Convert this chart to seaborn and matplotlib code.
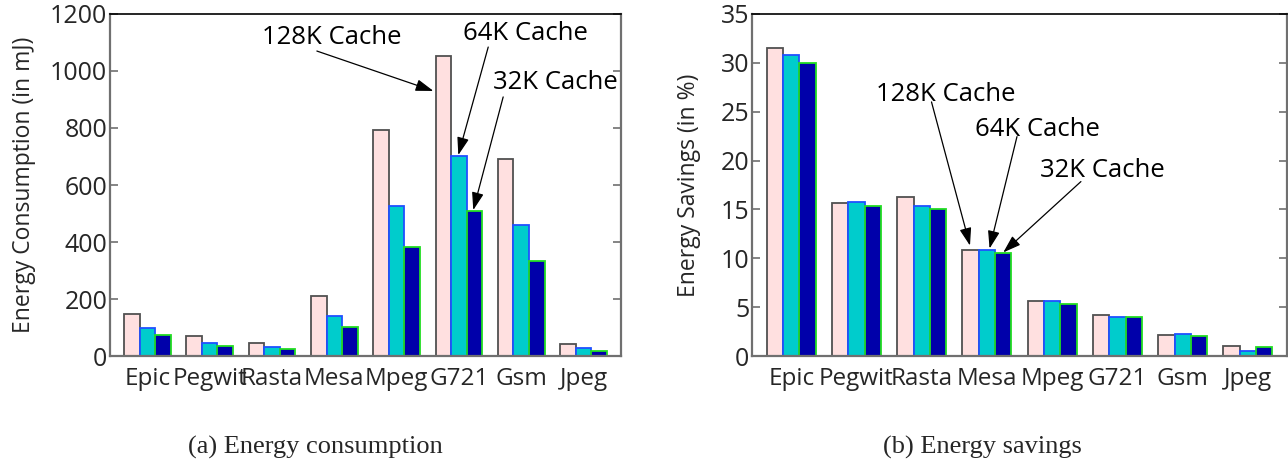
import matplotlib
matplotlib.use("Agg")
import matplotlib.pyplot as plt
import seaborn as sns
import pandas as pd

sns.set_theme(style="white")
plt.rcParams["font.family"] = ["Open Sans", "DejaVu Sans"]

benchmarks = ["Epic", "Pegwit", "Rasta", "Mesa", "Mpeg", "G721", "Gsm", "Jpeg"]
caches = ["128K Cache", "64K Cache", "32K Cache"]

# Energy consumption in mJ
energy_128k = [147, 70, 45, 209, 793, 1053, 692, 41]
energy_64k = [97, 47, 30, 140, 526, 701, 460, 27]
energy_32k = [73, 34, 23, 101, 381, 509, 333, 19]

# Energy savings in %
savings_128k = [31.5, 15.7, 16.3, 10.9, 5.6, 4.2, 2.2, 1.0]
savings_64k = [30.8, 15.8, 15.4, 10.8, 5.6, 4.0, 2.3, 0.5]
savings_32k = [30.0, 15.35, 15.0, 10.5, 5.35, 3.95, 2.05, 0.95]

fill_colors = ["#FFE0E0", "#00CCCC", "#0000AA"]
edge_colors = ["#505050", "#2050FF", "#22DD22"]


def long_frame(series):
    rows = []
    for cache, vals in zip(caches, series):
        for b, v in zip(benchmarks, vals):
            rows.append({"benchmark": b, "cache": cache, "value": v})
    return pd.DataFrame(rows)


def draw_panel(ax, series, ylim, yticks, ylabel, labelpad):
    df = long_frame(series)
    sns.barplot(data=df, x="benchmark", y="value", hue="cache",
                order=benchmarks, hue_order=caches, palette=fill_colors,
                saturation=1, width=0.75, linewidth=1.3, legend=False, ax=ax)
    for container, ec in zip(ax.containers, edge_colors):
        for patch in container:
            patch.set_edgecolor(ec)
    ax.set_xlim(-0.6, 7.6)
    ax.set_ylim(*ylim)
    ax.set_yticks(yticks)
    ax.set_xlabel("")
    ax.set_ylabel(ylabel, fontsize=16.5, labelpad=labelpad)
    ax.tick_params(axis="y", which="both", direction="in", length=6, width=1.2,
                   color="#707070", left=True, right=True, labelsize=18, pad=2)
    ax.tick_params(axis="x", length=0, labelsize=17.5, pad=8)
    for side in ["left", "bottom", "right"]:
        ax.spines[side].set_color("#707070")
        ax.spines[side].set_linewidth(1.6)
    ax.spines["top"].set_color("black")
    ax.spines["top"].set_linewidth(1.2)


def note(ax, text, xy, xytext, text_pos):
    ax.annotate("", xy=xy, xytext=xytext,
                arrowprops=dict(arrowstyle="-|>,head_length=0.9,head_width=0.3",
                                color="black", lw=0.9, shrinkA=0, shrinkB=0))
    ax.text(text_pos[0], text_pos[1], text, fontsize=18.5, ha="center",
            va="center", color="black")


fig = plt.figure(figsize=(12.88, 4.66), dpi=100)
ax1 = fig.add_axes([0.0854, 0.236, 0.3967, 0.734])
ax2 = fig.add_axes([0.5839, 0.236, 0.4154, 0.734])

draw_panel(ax1, [energy_128k, energy_64k, energy_32k], (0, 1200),
           [0, 200, 400, 600, 800, 1000, 1200], "Energy Consumption (in mJ)", 10)
draw_panel(ax2, [savings_128k, savings_64k, savings_32k], (0, 35),
           [0, 5, 10, 15, 20, 25, 30, 35], "Energy Savings (in %)", 14)

note(ax1, "128K Cache", (4.59, 930), (2.72, 1070), (2.96, 1116))
note(ax1, "64K Cache", (4.99, 705), (5.47, 1084), (6.06, 1133))
note(ax1, "32K Cache", (5.23, 512), (5.71, 909), (6.55, 958))

note(ax2, "128K Cache", (2.74, 11.3), (2.15, 26.0), (2.37, 26.8))
note(ax2, "64K Cache", (3.04, 11.0), (3.46, 22.45), (3.78, 23.2))
note(ax2, "32K Cache", (3.25, 10.6), (4.44, 17.85), (4.77, 19.0))

fig.text(315 / 1288, 1 - 447 / 466, "(a) Energy consumption",
         family="Liberation Serif", fontsize=19, ha="center", va="center")
fig.text(982 / 1288, 1 - 447 / 466, "(b) Energy savings",
         family="Liberation Serif", fontsize=19, ha="center", va="center")

fig.savefig("out.png", dpi=100)
